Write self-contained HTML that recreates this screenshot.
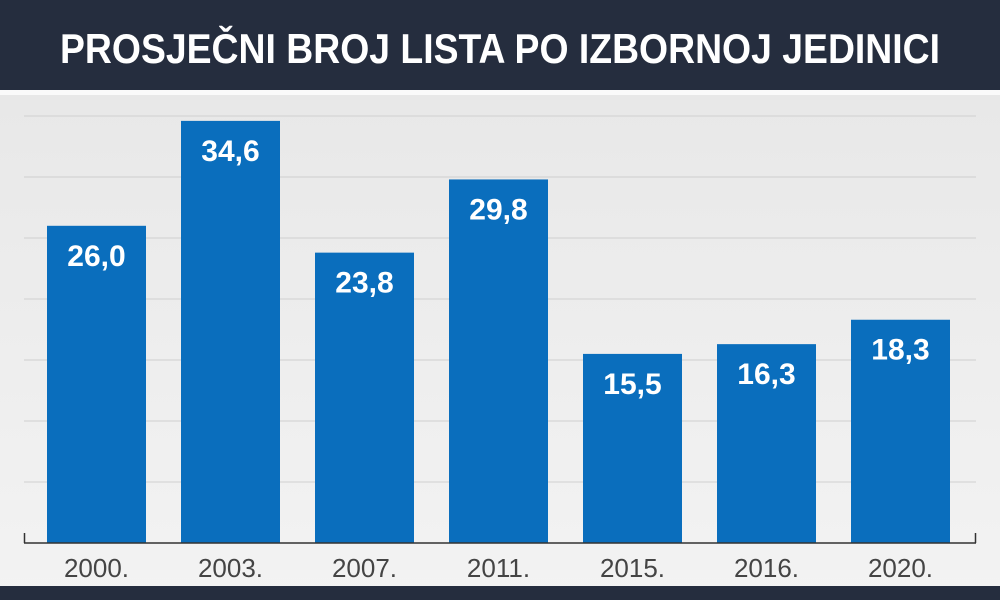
<!DOCTYPE html>
<html><head><meta charset="utf-8"><style>
body{margin:0;width:1000px;height:600px;overflow:hidden;background:#eee}
svg{display:block}
</style></head><body>
<svg width="1000" height="600" viewBox="0 0 1000 600">
<defs><linearGradient id="bg" x1="0" y1="0" x2="0" y2="1"><stop offset="0" stop-color="#e6e6e6"/><stop offset="1" stop-color="#f3f3f3"/></linearGradient></defs>
<rect x="0" y="0" width="1000" height="600" fill="url(#bg)"/>
<rect x="0" y="0" width="1000" height="90" fill="#252d3e"/>
<rect x="0" y="90" width="1000" height="5" fill="#fafafa"/>
<text x="500" y="63" text-anchor="middle" fill="#fff" font-family="'Liberation Sans Narrow','Liberation Sans',sans-serif" font-weight="bold" font-size="42" textLength="880" lengthAdjust="spacingAndGlyphs">PROSJEČNI BROJ LISTA PO IZBORNOJ JEDINICI</text>
<rect x="0" y="586" width="1000" height="14" fill="#252d3e"/>
<g id="grid"></g>
<g id="bars"></g>
<line x1="24" y1="543" x2="976" y2="543" stroke="#333" stroke-width="1.5"/>
<line x1="24.5" y1="533" x2="24.5" y2="543" stroke="#333" stroke-width="1.5"/>
<line x1="975.5" y1="533" x2="975.5" y2="543" stroke="#333" stroke-width="1.5"/>
</svg>
<script>
const categories=["2000.","2003.","2007.","2011.","2015.","2016.","2020."];
const values=[26.0,34.6,23.8,29.8,15.5,16.3,18.3];
const valueLabels=["26,0","34,6","23,8","29,8","15,5","16,3","18,3"];
const gridTicks=[5,10,15,20,25,30,35];
const NS="http://www.w3.org/2000/svg";
const y0=543, pxPerUnit=12.2;
function y(v){return y0-v*pxPerUnit;}
const band=134, x0=47-(band-99)/2+0;
function x(i){return 47+i*134;}
const bw=99;
const grid=document.getElementById('grid');
gridTicks.forEach(t=>{
 const l=document.createElementNS(NS,'line');
 l.setAttribute('x1',24);l.setAttribute('x2',976);
 l.setAttribute('y1',y(t));l.setAttribute('y2',y(t));
 l.setAttribute('stroke','#cfcfcf');l.setAttribute('stroke-width','1');
 
 
 grid.appendChild(l);
});
const bars=document.getElementById('bars');
values.forEach((v,i)=>{
 const r=document.createElementNS(NS,'rect');
 r.setAttribute('x',x(i));r.setAttribute('width',bw);
 r.setAttribute('y',y(v));r.setAttribute('height',y0-y(v));
 r.setAttribute('fill','#0a6ebd');
 
 
 bars.appendChild(r);
 const t=document.createElementNS(NS,'text');
 t.setAttribute('x',x(i)+bw/2);t.setAttribute('y',y(v)+40);
 t.setAttribute('text-anchor','middle');t.setAttribute('fill','#fff');
 t.setAttribute('font-family',"'Liberation Sans Narrow','Liberation Sans',sans-serif");
 t.setAttribute('font-weight','bold');t.setAttribute('font-size','30');
 t.textContent=valueLabels[i];
 
 
 bars.appendChild(t);
 const c=document.createElementNS(NS,'text');
 c.setAttribute('x',x(i)+bw/2);c.setAttribute('y',577);
 c.setAttribute('text-anchor','middle');c.setAttribute('fill','#444');
 c.setAttribute('font-family',"'Liberation Sans Narrow','Liberation Sans',sans-serif");
 c.setAttribute('font-size','26');
 c.textContent=categories[i];
 
 
 bars.appendChild(c);
});
</script>
</body></html>
